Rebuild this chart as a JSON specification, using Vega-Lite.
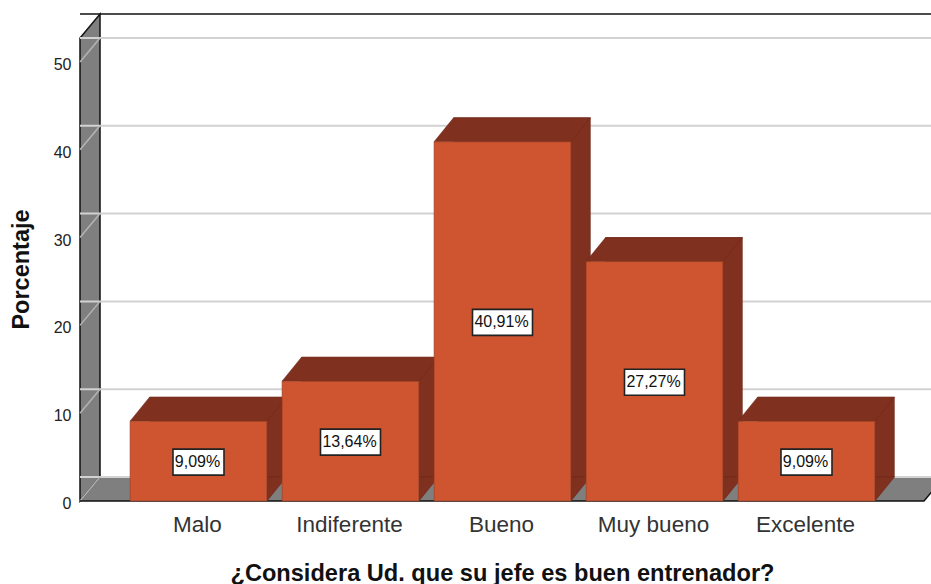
{
"$schema":"https://vega.github.io/schema/vega-lite/v6.json",
"width":851,"height":463,
"autosize":{"type":"none"},
"padding":{"left":80,"top":38,"right":0,"bottom":83},
"background":"white",
"config":{"view":{"stroke":null},"font":"Liberation Sans"},
"datasets":{
"barras":[
{"categoria":"Malo","porcentaje":9.09,"mitad":4.545,"etiqueta":"9,09%"},
{"categoria":"Indiferente","porcentaje":13.64,"mitad":6.82,"etiqueta":"13,64%"},
{"categoria":"Bueno","porcentaje":40.91,"mitad":20.455,"etiqueta":"40,91%"},
{"categoria":"Muy bueno","porcentaje":27.27,"mitad":13.635,"etiqueta":"27,27%"},
{"categoria":"Excelente","porcentaje":9.09,"mitad":4.545,"etiqueta":"9,09%"}],
"rejilla":[{"v":0},{"v":10},{"v":20},{"v":30},{"v":40},{"v":50}],
"uno":[{"v":0}]
},
"data":{"name":"barras"},
"encoding":{
"y":{"type":"quantitative","scale":{"domain":[0,52.73],"nice":false}}
},
"layer":[
{"data":{"name":"uno"},"mark":{"type":"point","filled":true,"size":4,"opacity":1,"fill":"#7f7f7f","shape":"M0 0L20 -24L864 -24L844 0Z"},
 "encoding":{"x":{"value":0},"y":{"datum":0,"type":"quantitative"}}},
{"data":{"name":"uno"},"mark":{"type":"point","filled":true,"size":4,"opacity":1,"fill":"#7f7f7f","stroke":"#111","strokeWidth":1.5,"shape":"M0 0L0 -463L20 -487L20 -24Z"},
 "encoding":{"x":{"value":0},"y":{"datum":0,"type":"quantitative"}}},
{"data":{"name":"rejilla"},"mark":{"type":"rule","stroke":"#d2d2d2","strokeWidth":2,"xOffset":21,"yOffset":-24},
 "encoding":{"y":{"field":"v","type":"quantitative","axis":{"values":[0,10,20,30,40,50],"title":"Porcentaje","grid":false,"domain":false,"ticks":false,"labelFontSize":16,"labelColor":"#222","labelPadding":9,"labelOffset":2.5,"titleFontSize":23.5,"titleFontWeight":"bold","titleColor":"#111","titleX":-47,"titleY":231}}}},
{"data":{"name":"rejilla"},"mark":{"type":"point","filled":false,"size":4,"opacity":1,"stroke":"#b4b4b4","strokeWidth":1.5,"shape":"M0 0L20 -24"},
 "encoding":{"x":{"value":0},"y":{"field":"v","type":"quantitative"}}},
{"data":{"name":"uno"},"mark":{"type":"rule","stroke":"#111","strokeWidth":1.5,"xOffset":20,"yOffset":-24},
 "encoding":{"y":{"datum":52.73,"type":"quantitative"}}},
{"data":{"name":"uno"},"mark":{"type":"point","filled":false,"size":4,"opacity":1,"stroke":"#111","strokeWidth":1.5,"shape":"M0 0L844 0L864 -24"},
 "encoding":{"x":{"value":0},"y":{"datum":0,"type":"quantitative"}}},
{"layer":[
 {"mark":{"type":"bar","fill":"#80301e","stroke":"#6c2718","strokeWidth":0.5,"xOffset":19.5,"x2Offset":19.5,"yOffset":-24,"y2Offset":-24},
  "encoding":{"y":{"field":"porcentaje","type":"quantitative"}}},
 {"mark":{"type":"point","filled":true,"size":4,"opacity":1,"fill":"#80301e","stroke":"#6c2718","strokeWidth":0.5,"shape":"M68.5 0L88 -24L68.5 -24Z"},
  "encoding":{"y":{"datum":0,"type":"quantitative"}}},
 {"mark":{"type":"point","filled":true,"size":4,"opacity":1,"fill":"#80301e","stroke":"#6c2718","strokeWidth":0.5,"shape":"M-68.5 0L-49 -24L88 -24L68.5 0Z"},
  "encoding":{"y":{"field":"porcentaje","type":"quantitative"}}},
 {"mark":{"type":"bar","fill":"#cf5430","stroke":"#8a4026","strokeWidth":0.6},
  "encoding":{"y":{"field":"porcentaje","type":"quantitative"}}},
 {"mark":{"type":"point","filled":true,"size":4,"opacity":1,"fill":"white","stroke":"#222","strokeWidth":1.6,"yOffset":1},
  "encoding":{"y":{"field":"mitad","type":"quantitative"},
   "shape":{"condition":{"test":"datum.porcentaje<10","value":"M-25.5 -13H25.5V13H-25.5Z"},"value":"M-30 -13H30V13H-30Z"}}},
 {"mark":{"type":"text","fontSize":16,"color":"#111","baseline":"middle","align":"center","dx":-1,"dy":1},
  "encoding":{"y":{"field":"mitad","type":"quantitative"},"text":{"field":"etiqueta"}}}
],
"encoding":{"x":{"field":"categoria","type":"nominal","sort":null,
 "scale":{"domain":["Malo","Indiferente","Bueno","Muy bueno","Excelente"],"range":[42.5,802.5],"paddingInner":0.1,"paddingOuter":0.05},
 "axis":{"title":"¿Considera Ud. que su jefe es buen entrenador?","labelAngle":0,"domain":false,"ticks":false,"labelFontSize":22.5,"labelColor":"#333","labelPadding":12,"labelOffset":-1,"titleFontSize":23.6,"titleFontWeight":"bold","titleColor":"#111","titleX":422,"titleY":60}}}}
]
}
